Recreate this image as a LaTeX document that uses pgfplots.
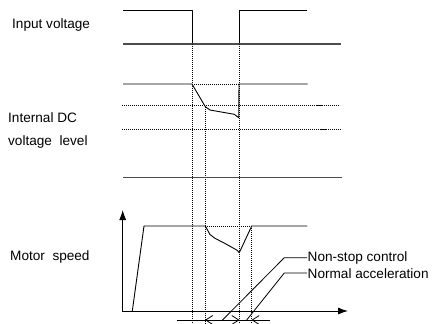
\documentclass[border=0pt]{standalone}
\usepackage{pgfplots}
\pgfplotsset{compat=1.18}
\usepackage{fontspec}
\setmainfont{Liberation Sans}
\usetikzlibrary{arrows.meta}
\tikzset{
  lbl/.style={anchor=west, font=\fontsize{13.6bp}{15bp}\selectfont, inner sep=0pt},
  ln/.style={black, line width=0.9bp, line join=round},
  dots/.style={black, line width=0.6bp, dash pattern=on 0.8bp off 1.2bp},
  base/.style={black!70, line width=1.6bp}}
\begin{document}
\begin{tikzpicture}
\path[use as bounding box] (0,0) rectangle (434bp,324bp);
\begin{axis}[at={(0,0)}, anchor=south west, scale only axis,
  width=434bp, height=324bp, xmin=0, xmax=434, ymin=0, ymax=324,
  y dir=reverse, hide axis, clip=false,
  every axis plot/.append style={mark=none}]
% Input voltage
\addplot[ln] coordinates {(123,10) (192,10) (192,44)};
\addplot[ln] coordinates {(239,44) (239,10) (307,10)};
\addplot[base] coordinates {(123,44) (341,44)};
% dotted verticals
\addplot[dots] coordinates {(192,44) (192,324)};
\addplot[dots] coordinates {(205,107) (205,324)};
\addplot[dots] coordinates {(239.5,44) (239.5,324)};
\addplot[dots] coordinates {(251.5,226) (251.5,324)};
% dotted horizontals
\addplot[dots] coordinates {(192,84) (239,84)};
\addplot[dots] coordinates {(122,105.5) (340,105.5)};
\addplot[dots] coordinates {(122,129.7) (341,129.7)};
\addplot[dots] coordinates {(205,226) (252,226)};
% short dashes
\addplot[ln, line width=1.4bp] coordinates {(317,105.3) (323,105.3)};
\addplot[ln, line width=1.4bp] coordinates {(320,129.5) (327,129.5)};
% internal DC voltage
\addplot[ln] coordinates {(123,84) (192,84) (205.3,106.7) (210,110) (234.3,114.3) (238.7,117.7) (239,84) (307.7,84)};
\addplot[base] coordinates {(123,177.5) (342,177.5)};
% motor speed axes
\addplot[ln, -{Latex[length=10bp,width=7bp]}] coordinates {(122.7,311) (122.7,210)};
\addplot[ln, -{Latex[length=10bp,width=7bp]}] coordinates {(122,311) (348,311)};
% motor speed curve
\addplot[ln] coordinates {(132.3,311) (144,226) (205.3,226) (210,234.5) (215,238.3) (225,243.5) (236.7,250) (239.3,252.7) (251.7,226) (307.3,226)};
% dimension line
\addplot[ln, line width=0.8bp] coordinates {(176.7,320) (270,320)};
\addplot[ln, line width=0.8bp, -{Straight Barb[length=7bp,width=9bp]}] coordinates {(222,320) (205,320)};
\addplot[ln, line width=0.8bp, -{Straight Barb[length=7bp,width=9bp]}] coordinates {(222,320) (239.5,320)};
\addplot[ln, line width=0.8bp, -{Straight Barb[length=7bp,width=9bp]}] coordinates {(265,320) (251.5,320)};
% leaders
\addplot[ln, line width=0.8bp] coordinates {(222.5,320) (284.3,257.7) (307,257.7)};
\addplot[ln, line width=0.8bp] coordinates {(246.7,320) (284.3,273) (307,273)};
% labels
\node[lbl] at (axis cs:12,25) {Input voltage};
\node[lbl] at (axis cs:8,118) {Internal DC};
\node[lbl] at (axis cs:8,142) {voltage\ \ level};
\node[lbl] at (axis cs:10,257) {Motor\ \ speed};
\node[lbl] at (axis cs:307.5,258) {Non-stop control};
\node[lbl] at (axis cs:307.5,273.5) {Normal acceleration};
\end{axis}
\end{tikzpicture}
\end{document}
